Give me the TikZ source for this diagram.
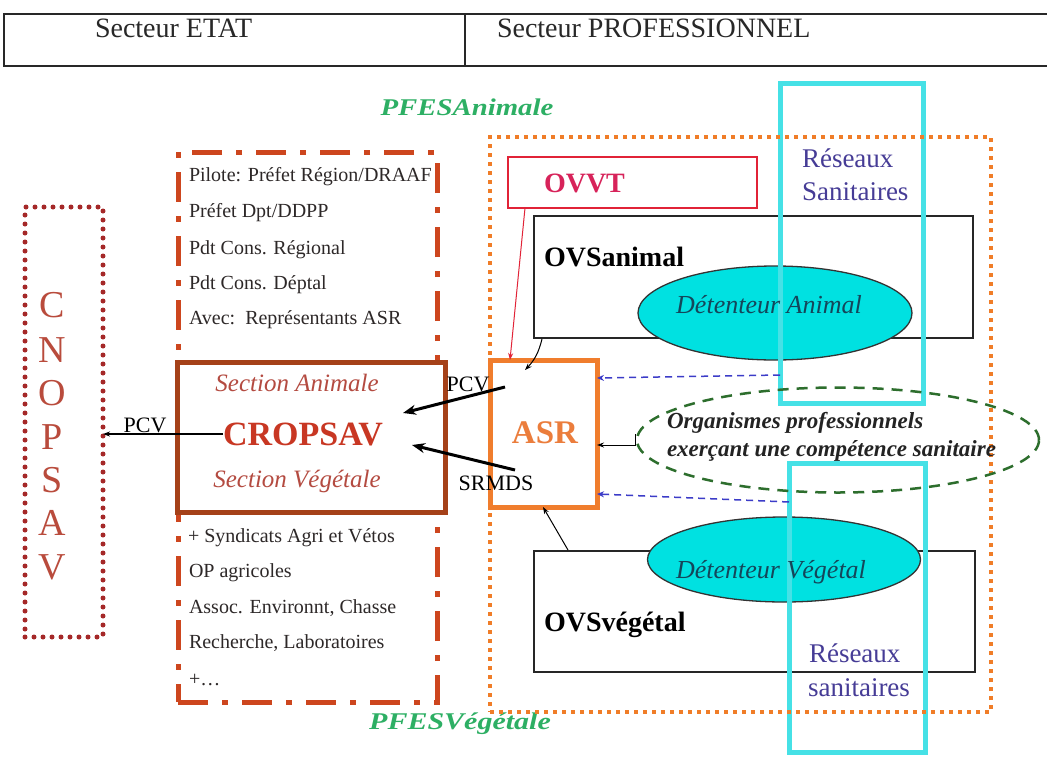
\documentclass[tikz,border=0pt]{standalone}
\usepackage{fontspec}
\setmainfont{Liberation Serif}
\usetikzlibrary{arrows.meta,shapes.geometric}
\definecolor{hdrgray}{RGB}{40,40,40}
\definecolor{cndot}{RGB}{165,40,40}
\definecolor{cnletter}{RGB}{185,75,60}
\definecolor{etatred}{RGB}{205,70,30}
\definecolor{listtext}{RGB}{45,40,40}
\definecolor{cropbrown}{RGB}{165,65,25}
\definecolor{secttext}{RGB}{180,75,65}
\definecolor{cropred}{RGB}{200,55,35}
\definecolor{asrorange}{RGB}{240,125,45}
\definecolor{asrtext}{RGB}{235,125,60}
\definecolor{pfesorange}{RGB}{240,125,40}
\definecolor{pfesgreen}{RGB}{45,175,100}
\definecolor{ovvtred}{RGB}{225,35,55}
\definecolor{ovvttext}{RGB}{215,35,90}
\definecolor{detcyan}{RGB}{0,225,225}
\definecolor{dettext}{RGB}{20,70,90}
\definecolor{rescyan}{RGB}{70,225,230}
\definecolor{restext}{RGB}{70,60,150}
\definecolor{orggreen}{RGB}{45,110,45}
\definecolor{orgtext}{RGB}{35,35,35}
\definecolor{bluedash}{RGB}{60,60,200}
\newcommand\myfs[1]{\fontsize{#1}{#1}\selectfont}
\begin{document}
\begin{tikzpicture}[x=1pt,y=-1pt,
  box/.style={draw, rectangle, inner sep=0pt, outer sep=0pt},
  hdrcell/.style={box, draw=hdrgray, line width=1.5pt},
  cnbox/.style={box, draw=cndot, line width=5pt, dash pattern=on 0pt off 9pt, line cap=round},
  statebox/.style={box, draw=etatred, line width=5pt, dash pattern=on 30pt off 14pt on 6pt off 14pt},
  cropbox/.style={box, draw=cropbrown, line width=5pt, fill=white},
  asrbox/.style={box, draw=asrorange, line width=5pt},
  pfesbox/.style={box, draw=pfesorange, line width=4pt, dash pattern=on 4pt off 5pt},
  ovvtbox/.style={box, draw=ovvtred, line width=2.5pt},
  ovsbox/.style={box, draw=black!85, line width=2pt},
  detell/.style={ellipse, draw=black!80, line width=1.3pt, fill=detcyan, inner sep=0pt, outer sep=0pt},
  reseau/.style={box, draw=rescyan, line width=5pt},
  orgell/.style={ellipse, draw=orggreen, line width=2.5pt, dash pattern=on 11pt off 8pt, inner sep=0pt},
  txt/.style={inner sep=0pt, outer sep=0pt},
  hdrtxt/.style={txt, anchor=west, text=hdrgray, font=\myfs{28}},
  cnl/.style={txt, text=cnletter, font=\myfs{38}},
  listtxt/.style={txt, anchor=west, text=listtext, font=\myfs{20}},
  lbl/.style={txt, text=black, font=\myfs{22}},
  pfestxt/.style={txt, text=pfesgreen, font=\myfs{24}\bfseries\itshape},
  restxt/.style={txt, anchor=west, text=restext, font=\myfs{27}},
  ovstxt/.style={txt, anchor=west, text=black, font=\myfs{28}\bfseries},
  dettxt/.style={txt, text=dettext, font=\myfs{26}\itshape},
  orgtxt/.style={txt, anchor=west, text=orgtext, font=\myfs{23}\bfseries\itshape},
  bigarr/.style={line width=3pt, -{Stealth[length=13pt,width=10pt]}},
  thinarr/.style={line width=1pt, -{Stealth[length=7pt,width=5pt]}},
  bluearr/.style={line width=1.5pt, draw=bluedash, dash pattern=on 7pt off 5pt, -{Stealth[length=7pt,width=6pt]}}
]
\useasboundingbox (0,0) rectangle (1047,758);
\fill[white] (0,0) rectangle (1047,758);

% header
\node[hdrcell, minimum width=461pt, minimum height=52pt] (hdrL) at (234.5,40) {};
\node[hdrcell, minimum width=586pt, minimum height=52pt] (hdrR) at (758,40) {};
\node[hdrtxt] (hetat) at (95,28) {Secteur ETAT};
\node[hdrtxt] (hpro) at (497,28) {Secteur PROFESSIONNEL};

% CNOPSAV
\node[cnbox, minimum width=78pt, minimum height=430pt] (cnopsav) at (64,422) {};
\node[cnl] (c1) at (52,305) {C};
\node[cnl] (c2) at (52,350) {N};
\node[cnl] (c3) at (52,393) {O};
\node[cnl] (c4) at (52,437) {P};
\node[cnl] (c5) at (52,480) {S};
\node[cnl] (c6) at (52,523) {A};
\node[cnl] (c7) at (52,567) {V};

% Etat box
\node[statebox, minimum width=259pt, minimum height=550pt] (etat) at (307.5,427) {};
\node[listtxt] (l1) at (189,177) {Pilote: Préfet Région/DRAAF};
\node[listtxt] (l2) at (189,213) {Préfet Dpt/DDPP};
\node[listtxt] (l3) at (189,250) {Pdt Cons. Régional};
\node[listtxt] (l4) at (189,285) {Pdt Cons. Déptal};
\node[listtxt] (l5) at (189,320) {Avec:\hspace{10pt}Représentants ASR};
\node[listtxt] (m1) at (188,538) {+ Syndicats Agri et Vétos};
\node[listtxt] (m2) at (189,573) {OP agricoles};
\node[listtxt] (m3) at (189,608) {Assoc. Environnt, Chasse};
\node[listtxt] (m4) at (189,643) {Recherche, Laboratoires};
\node[listtxt] (m5) at (189,680) {+\dots};

% CROPSAV
\node[cropbox, minimum width=268pt, minimum height=150pt] (cropsav) at (311,437) {};
\node[txt, text=secttext, font=\myfs{25}\itshape] (secA) at (297,383) {Section Animale};
\node[txt, text=cropred, font=\myfs{34}\bfseries] (croptxt) at (303,434) {CROPSAV};
\node[txt, text=secttext, font=\myfs{25}\itshape] (secV) at (297,481) {Section Végétale};

% PFES labels
\node[pfestxt] (pfesA) at (467,107) {\scalebox{1.2}[1]{PFESAnimale}};
\node[pfestxt] (pfesV) at (460,724) {\scalebox{1.25}[1]{PFESVégétale}};

% professional side boxes
\node[ovsbox, minimum width=439pt, minimum height=122pt] (ovsa) at (753.5,277) {};
\node[ovsbox, minimum width=441pt, minimum height=121pt] (ovsv) at (754.5,611.5) {};
\node[detell, minimum width=274pt, minimum height=94pt] (deta) at (775,313) {};
\node[detell, minimum width=273pt, minimum height=85pt] (detv) at (784,559.5) {};
\node[ovvtbox, minimum width=249pt, minimum height=51pt] (ovvt) at (632.5,182.5) {};
\node[reseau, minimum width=143pt, minimum height=320pt] (resA) at (851.5,243) {};
\node[reseau, minimum width=136pt, minimum height=289pt] (resV) at (857,607.5) {};
\node[pfesbox, minimum width=501pt, minimum height=575pt] (pfes) at (740.5,424.5) {};
\node[orgell, minimum width=402pt, minimum height=105pt] (org) at (838,440) {};
\node[asrbox, minimum width=107pt, minimum height=147pt] (asr) at (543.5,433.5) {};

% texts on professional side
\node[txt, text=ovvttext, font=\myfs{28}\bfseries, anchor=west] (ovvttxt) at (544,183) {OVVT};
\node[ovstxt] (ovsatxt) at (544,257) {OVSanimal};
\node[ovstxt] (ovsvtxt) at (544,625) {OVSvégétal};
\node[dettxt] (detatxt) at (769,305) {Détenteur Animal};
\node[dettxt] (detvtxt) at (771,572) {Détenteur Végétal};
\node[restxt] (resA1) at (802,158) {Réseaux};
\node[restxt] (resA2) at (802,192) {Sanitaires};
\node[restxt] (resV1) at (809,653) {Réseaux};
\node[restxt] (resV2) at (808,688) {sanitaires};
\node[orgtxt] (org1) at (667,423) {Organismes professionnels};
\node[orgtxt] (org2) at (667,451) {exerçant une compétence sanitaire};
\node[txt, text=asrtext, font=\myfs{33}\bfseries] (asrtxt) at (545,433) {ASR};

% connectors
\node[lbl] (pcvL) at (145,425) {PCV};
\draw[thinarr, line width=1.5pt] (croptxt.west) -- (croptxt.west -| cnopsav.east);

\coordinate (pcvS) at (505,387);
\coordinate (pcvE) at (403,413);
\coordinate (srS) at (515,470);
\coordinate (srE) at (412,445);
\draw[bigarr] (pcvS) -- (pcvE);
\draw[bigarr] (srS) -- (srE);
\node[lbl] (pcvR) at (468,384) {PCV};
\node[lbl] (srmds) at (496,483) {SRMDS};

\coordinate (ovvtS) at (525,208);
\coordinate (asrT) at (510,360);
\draw[line width=1pt, draw=ovvtred, -{Stealth[length=7pt,width=5pt]}] (ovvtS) -- (asrT);

\coordinate (ovsaS) at (542,339);
\coordinate (asrIn) at (525,370);
\draw[thinarr] (ovsaS) to[bend left=15] (asrIn);

\coordinate (ovsvS) at (568,550);
\coordinate (asrB) at (543,507);
\draw[thinarr] (ovsvS) -- (asrB);

\coordinate (resAL) at (780,375);
\coordinate (asrR1) at (597,378);
\coordinate (resVL) at (789,502);
\coordinate (asrR2) at (597,494);
\draw[bluearr] (resAL) -- (asrR1);
\draw[bluearr] (resVL) -- (asrR2);

\coordinate (orgC) at (635,434);
\coordinate (asrR3) at (597,445);
\draw[thinarr] (orgC) |- (asrR3);
\end{tikzpicture}
\end{document}
